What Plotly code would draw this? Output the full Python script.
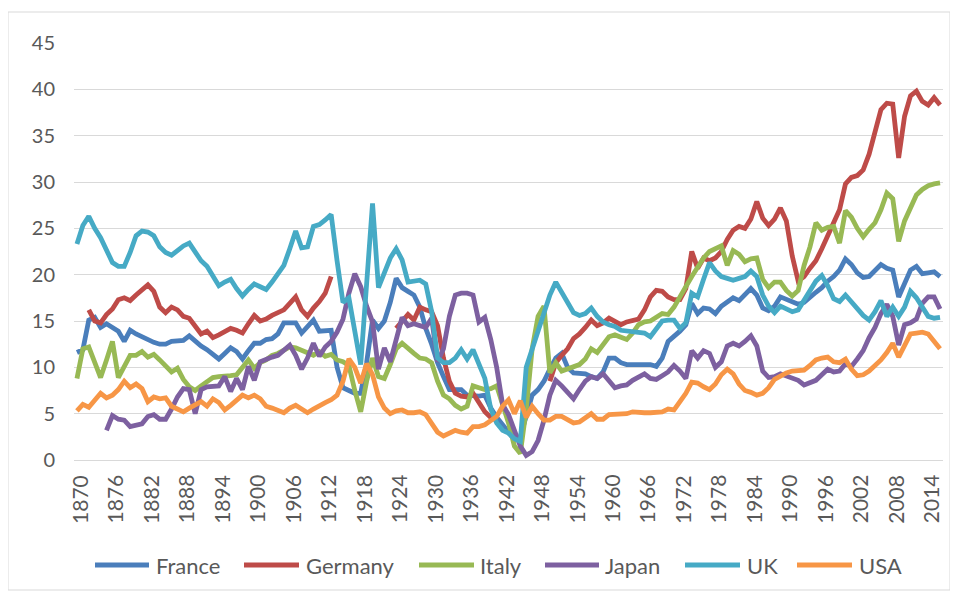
import plotly.graph_objects as go

years = list(range(1870, 2017))
N = None

france = [
    11.6, 11.9, 15.1, 15.4, 14.3, 14.7, 14.3, 13.9, 12.8, 14.0,
    13.6, 13.3, 12.9, 12.7, 12.5, 12.5, 12.8, 12.8, 12.9, 13.4,
    12.8, 12.3, 11.9, 11.4, 10.9, 11.5, 12.1, 11.7, 10.9, 11.8,
    12.6, 12.6, 13.0, 13.1, 13.6, 14.8, 14.8, 14.8, 13.7, 14.4,
    15.1, 13.9, 14.0, 14.0, 10.0, 7.8, 7.5, 7.2, 7.2, 10.5,
    15.1, 14.2, 15.0, 17.0, 19.6, 18.6, 18.2, 17.8, 16.5, 14.2,
    12.5, 10.5, 9.0, 7.6, 7.6, 7.6, 7.0, 6.9, 6.9, 7.0,
    5.6, 4.6, 3.8, 3.0, 2.2, 2.5, 5.0, 7.0, 7.6, 8.5,
    9.8, 11.0, 11.5, 10.0, 9.4, 9.3, 9.3, 9.0, 8.8, 9.5,
    11.0, 11.0, 10.5, 10.3, 10.3, 10.4, 10.4, 10.3, 10.1, 11.0,
    12.8, 13.3, 13.9, 14.6, 16.9, 15.8, 16.4, 16.3, 15.8, 16.6,
    17.0, 17.5, 17.2, 17.9, 18.5, 17.8, 16.4, 16.1, 16.6, 17.6,
    17.3, 17.0, 16.8, 17.0, 17.6, 18.1, 18.6, 19.3, 19.8, 20.5,
    21.7, 21.1, 20.2, 19.7, 19.8, 20.5, 21.1, 20.7, 20.5, 17.6,
    19.2, 20.5, 20.9, 20.1, 20.2, 20.3, 19.8,
]

germany = [
    N, N, 16.2, 15.0, 14.8, 15.7, 16.3, 17.3, 17.5, 17.2,
    17.8, 18.4, 18.9, 18.2, 16.5, 15.9, 16.5, 16.2, 15.5, 15.3,
    14.5, 13.6, 13.9, 13.2, 13.5, 13.9, 14.2, 14.0, 13.7, 14.7,
    15.6, 15.0, 15.2, 15.6, 15.9, 16.2, 16.9, 17.6, 16.2, 15.5,
    16.4, 17.1, 18.0, 19.8, N, N, N, N, N, N,
    N, N, N, N, 14.2, 14.9, 15.7, 15.1, 16.5, 16.2,
    16.0, 14.5, 11.0, 8.5, 7.2, 6.9, 6.8, 7.2, 6.3, 5.2,
    4.6, 4.3, N, N, N, N, N, N, N, N,
    8.5, 10.5, 11.3, 12.0, 13.1, 13.6, 14.3, 15.1, 14.5, 14.8,
    15.3, 15.0, 14.6, 14.9, 15.0, 15.2, 16.2, 17.6, 18.3, 18.2,
    17.6, 17.3, 17.3, 18.5, 22.5, 20.7, 21.8, 21.5, 21.8, 22.5,
    23.8, 24.8, 25.2, 25.0, 26.0, 27.9, 26.1, 25.3, 26.0, 27.2,
    25.8, 22.0, 19.3, 19.8, 20.7, 21.5, 22.8, 24.2, 25.4, 27.0,
    29.8, 30.5, 30.7, 31.3, 33.0, 35.3, 37.8, 38.5, 38.4, 32.6,
    37.1, 39.3, 39.8, 38.7, 38.3, 39.1, 38.3,
]

italy = [
    8.8, 12.0, 12.2, 10.5, 8.9, 10.8, 12.8, 8.9, 10.2, 11.3,
    11.3, 11.7, 11.1, 11.4, 10.8, 10.1, 9.5, 9.9, 8.7, 7.9,
    7.5, 8.0, 8.5, 8.9, 9.0, 9.0, 9.1, 9.2, 10.1, 10.8,
    9.9, 10.5, 10.8, 11.3, 11.5, 11.9, 12.2, 12.1, 11.8, 11.5,
    11.3, 11.7, 11.2, 11.4, 10.8, 10.6, 10.2, 7.5, 5.2, 8.5,
    11.0, 9.0, 8.8, 10.3, 12.0, 12.6, 12.0, 11.5, 11.0, 10.9,
    10.5, 8.5, 7.0, 6.6, 5.9, 5.5, 5.8, 8.0, 7.8, 7.6,
    7.7, 8.0, 6.0, 4.0, 1.5, 0.7, 5.5, 12.0, 15.5, 16.6,
    9.4, 10.5, 9.6, 9.8, 10.0, 10.3, 10.9, 12.0, 11.6, 12.5,
    13.3, 13.5, 13.2, 13.0, 13.7, 14.6, 14.9, 15.0, 15.4, 15.8,
    15.7, 16.5, 17.6, 18.8, 19.8, 20.8, 21.8, 22.5, 22.8, 23.1,
    21.0, 22.6, 22.2, 21.4, 21.7, 21.8, 19.5, 18.6, 19.2, 19.2,
    18.3, 17.7, 18.3, 21.0, 23.0, 25.6, 24.8, 25.1, 25.2, 23.4,
    26.9, 26.2, 25.0, 24.1, 24.9, 25.6, 27.0, 28.8, 28.2, 23.6,
    25.8, 27.2, 28.6, 29.2, 29.6, 29.8, 29.9,
]

japan = [
    N, N, N, N, N, 3.2, 4.8, 4.4, 4.3, 3.6,
    3.7, 3.9, 4.7, 4.9, 4.4, 4.4, 5.5, 6.8, 7.7, 7.6,
    5.0, 7.6, 7.9, 8.0, 8.0, 9.0, 7.4, 8.8, 7.6, 10.1,
    8.6, 10.6, 10.9, 11.1, 11.3, 11.8, 12.4, 11.3, 9.8, 11.0,
    12.6, 11.2, 12.2, 12.8, 13.8, 15.2, 18.0, 20.1, 18.7, 16.6,
    14.9, 9.8, 12.1, 10.6, 13.0, 15.4, 14.5, 14.7, 14.5, 14.3,
    15.3, 10.6, 12.0, 15.5, 17.8, 18.0, 18.0, 17.8, 14.9, 15.4,
    13.0, 10.0, 6.0, 4.9, 3.2, 1.5, 0.5, 0.9, 2.1, 4.3,
    7.0, 8.6, 8.0, 7.2, 6.6, 7.6, 8.5, 9.0, 8.8, 9.3,
    8.5, 7.8, 8.0, 8.1, 8.6, 9.0, 9.3, 8.8, 8.7, 9.1,
    9.5, 10.2, 9.6, 8.8, 11.8, 11.0, 11.8, 11.5, 10.0, 10.6,
    12.3, 12.6, 12.3, 12.8, 13.4, 12.3, 9.6, 8.9, 9.0, 9.3,
    9.1, 8.8, 8.6, 8.1, 8.3, 8.6, 9.2, 9.8, 9.5, 9.6,
    10.4, 10.1, 10.9, 11.8, 13.2, 14.3, 15.8, 16.8, 15.5, 12.4,
    14.6, 14.8, 15.2, 16.9, 17.6, 17.6, 16.3,
]

uk = [
    23.3, 25.3, 26.3, 25.0, 24.0, 22.7, 21.3, 20.9, 20.9, 22.4,
    24.2, 24.7, 24.6, 24.2, 23.0, 22.4, 22.1, 22.6, 23.1, 23.4,
    22.5, 21.5, 20.9, 19.8, 18.8, 19.2, 19.5, 18.5, 17.7, 18.4,
    19.0, 18.7, 18.4, 19.2, 20.0, 21.0, 22.8, 24.7, 22.9, 23.0,
    25.2, 25.4, 25.9, 26.5, 21.5, 17.0, 17.5, 13.5, 10.3, 19.0,
    27.7, 18.6, 20.3, 21.8, 22.8, 21.6, 19.2, 19.3, 19.4, 19.0,
    16.0, 11.0, 10.5, 10.5, 11.0, 11.9, 10.9, 11.9, 10.3, 8.8,
    5.5, 4.0, 3.2, 2.9, 2.3, 2.0, 10.0, 12.0, 14.0, 15.8,
    17.8, 19.2, 18.2, 17.0, 15.9, 15.6, 15.8, 16.4, 15.5, 14.9,
    14.6, 14.4, 14.0, 13.9, 13.8, 13.7, 13.7, 13.3, 14.2, 15.0,
    15.1, 15.1, 14.2, 14.8, 18.0, 17.6, 19.5, 21.3, 20.4, 19.8,
    19.6, 19.4, 19.6, 19.8, 20.4, 19.8, 17.8, 16.6, 15.9, 16.6,
    16.3, 16.0, 16.2, 17.2, 18.4, 19.3, 19.9, 18.8, 17.4, 17.1,
    17.8, 17.0, 16.2, 15.6, 15.1, 16.0, 17.2, 15.5, 16.5, 15.5,
    16.5, 18.2, 17.5, 16.5, 15.5, 15.3, 15.4,
]

usa = [
    5.3, 6.0, 5.7, 6.5, 7.2, 6.7, 7.0, 7.6, 8.5, 7.8,
    8.2, 7.7, 6.3, 6.8, 6.6, 6.7, 5.8, 5.5, 5.2, 5.6,
    5.9, 6.3, 5.8, 6.6, 6.2, 5.4, 5.9, 6.5, 7.0, 6.7,
    7.0, 6.6, 5.8, 5.6, 5.3, 5.1, 5.6, 5.9, 5.5, 5.1,
    5.5, 5.9, 6.2, 6.5, 7.0, 8.5, 10.9, 10.0, 8.3, 10.4,
    9.2, 6.8, 5.6, 5.0, 5.3, 5.4, 5.1, 5.1, 5.2, 4.9,
    4.0, 3.0, 2.6, 2.9, 3.2, 3.0, 2.9, 3.6, 3.6, 3.8,
    4.3, 4.7, 5.8, 6.5, 5.0, 6.4, 4.6, 5.8, 5.0, 4.3,
    4.3, 4.7, 4.7, 4.3, 4.0, 4.1, 4.6, 5.0, 4.4, 4.4,
    4.9, 4.9, 4.9, 5.0, 5.2, 5.1, 5.1, 5.1, 5.1, 5.2,
    5.5, 5.4, 6.3, 7.2, 8.4, 8.3, 7.9, 7.6, 8.2, 9.2,
    9.8, 9.3, 8.2, 7.5, 7.3, 7.0, 7.2, 7.8, 8.7, 9.1,
    9.4, 9.6, 9.7, 9.7, 10.2, 10.8, 11.0, 11.1, 10.6, 10.5,
    10.9, 9.8, 9.1, 9.2, 9.6, 10.2, 10.8, 11.6, 12.6, 11.1,
    12.5, 13.6, 13.7, 13.8, 13.6, 12.8, 12.0,
]

series_names = ["France", "Germany", "Italy", "Japan", "UK", "USA"]
series_values = [france, germany, italy, japan, uk, usa]
series_colors = ["#4A7EBB", "#BE4B48", "#98B954", "#7D60A0", "#46AAC5", "#F79646"]

x_tick_years = list(range(1870, 2015, 6))
y_tick_values = list(range(0, 50, 5))

# The page body has an 8px margin, so the figure is drawn 8px right / down.
OFF = 8
FIG_W, FIG_H = 958 - OFF, 595 - OFF
# plot-area geometry in screenshot pixels
L, R, T, B = 74, 943, 43, 460
PW, PH = R - L, B - T
def px(x):
    return (x - L) / PW
def py(y):
    return (B - y) / PH

fig = go.Figure()
for name, vals, col in zip(series_names, series_values, series_colors):
    fig.add_trace(go.Scatter(
        x=years, y=vals, name=name, mode="lines",
        line=dict(color=col, width=4.8),
        connectgaps=False, showlegend=False,
    ))

txt = "#595959"
font_family = "Lato, 'Open Sans', sans-serif"

annotations = []
for yr in x_tick_years:
    annotations.append(dict(
        x=yr, y=py(499), xref="x", yref="paper", text=str(yr),
        showarrow=False, textangle=-90, xanchor="center", yanchor="middle",
        xshift=2, font=dict(size=21, color=txt, family=font_family),
    ))

legend_line_x = [(95, 149), (244, 299), (419, 474), (545, 599), (685, 740), (797, 852)]
legend_text_x = [154, 304, 478, 603, 745, 857]
shapes = [dict(type="rect", xref="paper", yref="paper",
               x0=px(8), x1=px(950), y0=py(590), y1=py(12),
               line=dict(color="#d9d9d9", width=1), layer="below")]
for (x0, x1), tx, name, col in zip(legend_line_x, legend_text_x, series_names, series_colors):
    shapes.append(dict(type="line", xref="paper", yref="paper",
                       x0=px(x0), x1=px(x1), y0=py(565), y1=py(565),
                       line=dict(color=col, width=5)))
    annotations.append(dict(
        x=px(tx), y=py(565), xref="paper", yref="paper", text=name,
        showarrow=False, xanchor="left", yanchor="middle",
        font=dict(size=22, color=txt, family=font_family),
    ))

fig.update_layout(
    width=FIG_W, height=FIG_H,
    margin=dict(l=L - OFF, r=958 - R, t=T - OFF, b=595 - B),
    paper_bgcolor="white", plot_bgcolor="white",
    font=dict(family=font_family, color=txt, size=17),
    showlegend=False,
    xaxis=dict(
        range=[1869.5, 2016.5], tickmode="array", tickvals=x_tick_years,
        showticklabels=False, showgrid=False, zeroline=False,
        showline=True, linecolor="#d9d9d9", linewidth=1.3, ticks="",
    ),
    yaxis=dict(
        range=[0, 45], tickmode="array", tickvals=y_tick_values,
        showgrid=True, gridcolor="#d9d9d9", gridwidth=1.3, zeroline=False,
        showline=False, ticks="", tickfont=dict(size=20, color=txt),
        ticklabelstandoff=18,
    ),
    shapes=shapes,
    annotations=annotations,
)

fig.write_html("out.html")
